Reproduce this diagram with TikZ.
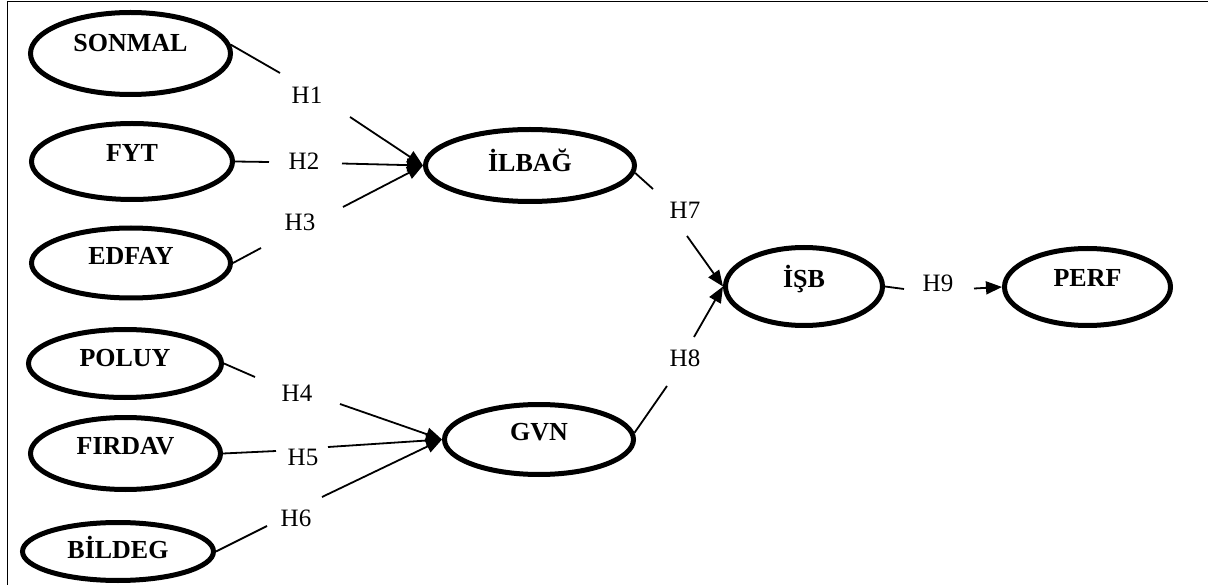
\documentclass[tikz,border=0pt]{standalone}
\usepackage{fontspec}
\setmainfont{Liberation Serif}
\usetikzlibrary{shapes.geometric,arrows.meta}
\begin{document}
\begin{tikzpicture}[x=1pt,y=-1pt,
 ell/.style={ellipse,draw,line width=5pt,inner sep=0pt,text height=0pt,text depth=0pt,font=\fontsize{26}{30}\selectfont\bfseries},
 hlab/.style={inner sep=0pt,font=\fontsize{25}{30}\selectfont},
 con/.style={line width=1.8pt},
 arr/.style={line width=1.8pt,-{Triangle[length=16pt,width=13pt]}},
 frame/.style={line width=1.5pt}]
\useasboundingbox (0,0) rectangle (1208,585);
% frame
\coordinate (ftl) at (7.5,1.5);
\coordinate (ftr) at (1208,1.5);
\coordinate (fbl) at (7.5,585);
\draw[frame] (ftr) -- (ftl) -- (fbl);
% ellipses
\node[ell,minimum width=200pt,minimum height=82pt] (sonmal) at (130.5,53.5) {\raisebox{2.4pt}{SONMAL}};
\node[ell,minimum width=201pt,minimum height=76pt] (fyt) at (132,161.5) {\raisebox{0.4pt}{FYT}};
\node[ell,minimum width=199pt,minimum height=70pt] (edfay) at (131,263) {\raisebox{-1.6pt}{EDFAY}};
\node[ell,minimum width=193pt,minimum height=68pt] (poluy) at (125,363.5) {\raisebox{-2.6pt}{POLUY}};
\node[ell,minimum width=190pt,minimum height=72pt] (firdav) at (125.5,453.5) {\raisebox{-0.6pt}{FIRDAV}};
\node[ell,minimum width=191pt,minimum height=58pt] (bildeg) at (118,551.5) {\raisebox{-7pt}{BİLDEG}};
\node[ell,minimum width=209pt,minimum height=72pt] (ilbag) at (530,165.5) {\raisebox{-5.6pt}{İLBAĞ}};
\node[ell,minimum width=189pt,minimum height=70pt] (gvn) at (539,439.5) {\raisebox{-1.1pt}{GVN}};
\node[ell,minimum width=157pt,minimum height=78pt] (isb) at (804,286.5) {\raisebox{-0.6pt}{İŞB}};
\node[ell,minimum width=166pt,minimum height=77pt] (perf) at (1087.5,287) {\raisebox{0.4pt}{PERF}};
% labels
\node[hlab] (h1) at (307,95.5) {H1};
\node[hlab] (h2) at (304,161.5) {H2};
\node[hlab] (h3) at (300,222.5) {H3};
\node[hlab] (h4) at (297,393.5) {H4};
\node[hlab] (h5) at (303,457.5) {H5};
\node[hlab] (h6) at (296,518.5) {H6};
\node[hlab] (h7) at (685,210) {H7};
\node[hlab] (h8) at (685,358) {H8};
\node[hlab] (h9) at (938,283) {H9};
% gap end points
\coordinate (c1a) at (280,73);   \coordinate (c1b) at (350,117);
\coordinate (c2a) at (269,162);  \coordinate (c2b) at (342,163.5);
\coordinate (c3a) at (261,248);  \coordinate (c3b) at (343,207);
\coordinate (c4a) at (255,377);  \coordinate (c4b) at (340,404);
\coordinate (c5a) at (276,451);  \coordinate (c5b) at (328,447);
\coordinate (c6a) at (267,526);  \coordinate (c6b) at (322,497);
\coordinate (c7a) at (653,189);  \coordinate (c7b) at (687,236);
\coordinate (c8a) at (667,386);  \coordinate (c8b) at (694,337);
\coordinate (c9a) at (904,289);  \coordinate (c9b) at (974,288.5);
% connectors
\draw[con] (sonmal.5) -- (c1a);  \draw[arr] (c1b) -- (ilbag.west);
\draw[con] (fyt.east) -- (c2a);  \draw[arr] (c2b) -- (ilbag.west);
\draw[con] (edfay.east) -- (c3a); \draw[arr] (c3b) -- (ilbag.west);
\draw[con] (poluy.east) -- (c4a); \draw[arr] (c4b) -- (gvn.west);
\draw[con] (firdav.east) -- (c5a); \draw[arr] (c5b) -- (gvn.west);
\draw[con] (bildeg.east) -- (c6a); \draw[arr] (c6b) -- (gvn.west);
\draw[con] (ilbag.-4) -- (c7a);  \draw[arr] (c7b) -- (isb.west);
\draw[con] (gvn.4) -- (c8a);     \draw[arr] (c8b) -- (isb.west);
\draw[con] (isb.east) -- (c9a);  \draw[arr] (c9b) -- (perf.west);
\end{tikzpicture}
\end{document}
